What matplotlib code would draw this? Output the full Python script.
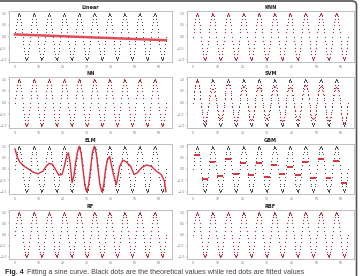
import numpy as np
import matplotlib
matplotlib.use('Agg')
import matplotlib.pyplot as plt
from matplotlib.patches import FancyBboxPatch

# theoretical values: one period of the sine, sampled every 10 degrees
sine_period = [0.0, 0.174, 0.342, 0.5, 0.643, 0.766, 0.866, 0.940, 0.985,
               1.0, 0.985, 0.940, 0.866, 0.766, 0.643, 0.5, 0.342, 0.174,
               0.0, -0.174, -0.342, -0.5, -0.643, -0.766, -0.866, -0.940, -0.985,
               -1.0, -0.985, -0.940, -0.866, -0.766, -0.643, -0.5, -0.342, -0.174]
n_periods = 10
x_end = 62.83

models = ['Linear', 'KNN', 'NN', 'SVM', 'ELM', 'GBM', 'RF', 'RBF']

# fitted values
linear_x = [0.0, 62.83]
linear_fit = [0.09, -0.16]

svm_peak_amp = [0.93, 0.6, 0.79, 0.72, 0.68, 0.72, 0.68, 0.76, 0.72, 0.68]
svm_trough_amp = [0.83, 0.73, 0.79, 0.76, 0.73, 0.79, 0.76, 0.73, 0.79, 0.9]

# one plateau per peak / trough of the sine
gbm_levels = [0.6, -0.45, 0.3, -0.31, 0.42, -0.24, 0.28, -0.28, 0.25, -0.35,
              0.18, -0.2, 0.11, -0.28, 0.32, -0.38, 0.42, -0.38, 0.36, -0.63]

elm_x = [0.0, 0.93, 1.86, 3.59, 5.59, 7.59, 9.58, 11.58, 12.91, 14.24,
         15.57, 16.9, 18.24, 19.57, 20.5, 21.56, 22.23, 22.9, 23.76, 24.5,
         25.13, 25.92, 26.7, 27.49, 28.27, 29.06, 29.85, 30.63, 31.42, 32.2,
         32.99, 33.77, 34.56, 35.34, 36.13, 36.91, 37.7, 38.48, 39.4, 40.86,
         42.19, 43.52, 44.85, 46.19, 48.18, 49.51, 50.84, 52.84, 54.84, 56.83,
         58.83, 60.83, 62.16, 62.83]
elm_y = [0.88, 0.53, 0.32, 0.14, 0.0, -0.14, -0.21, -0.1, 0.11, 0.25,
         0.21, -0.03, -0.27, -0.24, 0.11, 0.6, 0.71, 0.3, -0.6, -0.3,
         0.2, 0.71, 1.0, 0.71, 0.0, -0.71, -1.0, -0.71, 0.0, 0.71,
         1.0, 0.71, 0.0, -0.71, -1.0, -0.71, 0.0, 0.4, 0.55, -0.2,
         -0.69, 0.1, 0.39, 0.32, 0.11, -0.24, -0.17, 0.07, 0.18, 0.11,
         -0.1, -0.24, -0.52, -1.0]

theory = np.append(np.tile(sine_period, n_periods), 0.0)
x = np.linspace(0, x_end, len(theory))
RED = '#dc2f3e'
BLACK = '#333333'

fig = plt.figure(figsize=(3.6, 2.76), dpi=100)
W, H = 360.0, 276.0
rows = [(11, 62), (77, 128), (144, 194), (210, 259)]
cols = [(9, 172), (187, 354)]

for i, name in enumerate(models):
    top, bot = rows[i // 2]
    left, right = cols[i % 2]
    ax = fig.add_axes([left / W, 1 - bot / H, (right - left) / W, (bot - top) / H])
    ax.scatter(x, theory, s=0.6, c=BLACK, linewidths=0, zorder=2)

    if name == 'Linear':
        ax.plot(linear_x, linear_fit, color=RED, lw=1.8, alpha=0.85, zorder=3)
    elif name == 'SVM':
        cyc = np.minimum((x // (x_end / n_periods)).astype(int), n_periods - 1)
        amp = np.where(theory >= 0, np.array(svm_peak_amp)[cyc], np.array(svm_trough_amp)[cyc])
        ax.scatter(x[1::2], (theory * amp)[1::2], s=0.9, c=RED, linewidths=0, zorder=3)
    elif name == 'ELM':
        ax.plot(elm_x, elm_y, color=RED, lw=1.0, zorder=3)
    elif name == 'GBM':
        half = x_end / (2 * n_periods)
        centers = half / 2 + half * np.arange(len(gbm_levels))
        ax.hlines(gbm_levels, centers - 1.2, centers + 1.2, color=RED, lw=1.4, zorder=3)
    else:
        ax.scatter(x[1::2], theory[1::2], s=0.9, c=RED, linewidths=0, zorder=3)

    ax.set_xlim(-2.5, x_end + 2.5)
    ax.set_ylim(-1.1, 1.1)
    ax.set_xticks([0, 10, 20, 30, 40, 50, 60])
    ax.set_yticks([-1, -0.5, 0, 0.5, 1])
    ax.tick_params(labelsize=2.2, length=1, width=0.3, pad=0.8,
                   colors='#777777')
    for s in ax.spines.values():
        s.set_color('#b5b5b5')
        s.set_linewidth(0.6)
    ax.set_title(name, fontsize=3.6, fontweight='bold', pad=1.2, color='#222222')

# page frame of the journal figure
frame = FancyBboxPatch((-0.05, -0.05), 356.5 / W + 0.05, 1 - 1 / H + 0.05,
                       boxstyle='round,pad=0,rounding_size=0.014',
                       transform=fig.transFigure, fill=False,
                       ec='#555555', lw=1.2)
fig.add_artist(frame)

fig.text(5 / W, 1.6 / H, 'Fig. 4', fontsize=5.1, fontweight='bold',
         family='Liberation Sans', color='#222222', va='baseline')
fig.text(27 / W, 1.6 / H,
         'Fitting a sine curve. Black dots are the theoretical values while red dots are fitted values',
         fontsize=5.1, family='Liberation Sans', color='#444444', va='baseline')

fig.savefig('out.png', dpi=100)
